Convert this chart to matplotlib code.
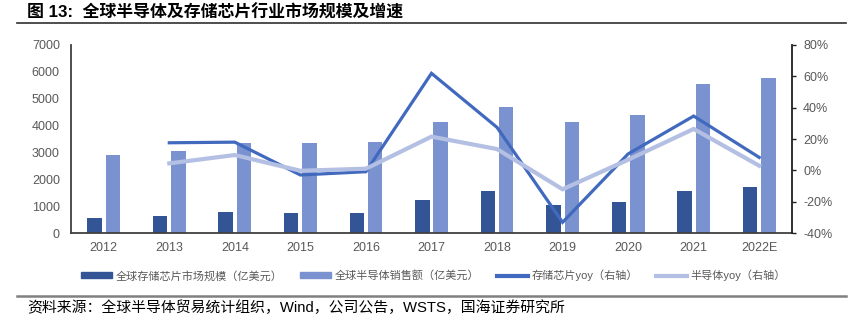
import matplotlib.pyplot as plt
import numpy as np
from matplotlib.lines import Line2D
from matplotlib.patches import Patch

plt.rcParams['font.family'] = ['Liberation Sans', 'Noto Sans CJK SC', 'DejaVu Sans']

years = ['2012', '2013', '2014', '2015', '2016', '2017', '2018', '2019', '2020', '2021', '2022E']
memory_size = [557, 653, 779, 753, 768, 1235, 1570, 1060, 1160, 1570, 1710]
semi_sales = [2916, 3056, 3358, 3352, 3389, 4122, 4688, 4123, 4404, 5559, 5750]
# yoy in %, 2012 has no value
memory_yoy = [np.nan, 17.6, 18.0, -2.9, -0.8, 61.8, 27.4, -33.0, 10.5, 34.6, 8.3]
semi_yoy = [np.nan, 4.5, 9.8, -0.2, 1.1, 21.5, 13.6, -12.0, 6.8, 26.4, 3.0]

c_dark = '#335596'
c_light = '#7A92CF'
c_line1 = '#4169BE'
c_line2 = '#B3BFE3'
c_text = '#595959'

fig = plt.figure(figsize=(8.55, 3.32), dpi=100)
ax = fig.add_axes([0.083, 0.2973, 0.8433, 0.568])
ax2 = ax.twinx()

x = np.arange(len(years))
w = 0.22
ax.bar(x - 0.14, memory_size, w, color=c_dark, zorder=2)
ax.bar(x + 0.14, semi_sales, w, color=c_light, zorder=2)
ax.set_xlim(-0.5, len(years) - 0.5)
ax.set_ylim(0, 7000)
ax.set_yticks(range(0, 7001, 1000))
ax.set_xticks(x)
ax.set_xticklabels(years)

ax2.plot(x, memory_yoy, color=c_line1, lw=2.3, solid_joinstyle='miter')
ax2.plot(x, semi_yoy, color=c_line2, lw=3, solid_joinstyle='miter')
ax2.set_ylim(-40, 80)
ax2.set_yticks(range(-40, 81, 20))
ax2.set_yticklabels([f'{v}%' for v in range(-40, 81, 20)])

for a in (ax, ax2):
    a.spines['top'].set_visible(False)
    a.tick_params(labelsize=9, labelcolor=c_text)
ax.spines['right'].set_visible(False)
ax2.spines['left'].set_visible(False)
ax2.spines['bottom'].set_visible(False)
ax.spines['left'].set_color('#404040')
ax.spines['bottom'].set_color('#404040')
ax.spines['left'].set_linewidth(1.3)
ax.spines['bottom'].set_linewidth(1.3)
ax2.spines['right'].set_color('#202020')
ax2.spines['right'].set_linewidth(1.3)
ax.tick_params(axis='y', length=0, pad=8)
ax.tick_params(axis='x', length=0, pad=6)
ax2.tick_params(axis='y', length=3, width=1, color='#202020', pad=5)

handles = [
    Patch(color=c_dark), Patch(color=c_light),
    Line2D([], [], color=c_line1, lw=3), Line2D([], [], color=c_line2, lw=3),
]
labels = ['全球存储芯片市场规模（亿美元）', '全球半导体销售额（亿美元）', '存储芯片yoy（右轴）', '半导体yoy（右轴）']
leg = fig.legend(handles, labels, loc='center', bbox_to_anchor=(0.507, 0.170), ncol=4, frameon=False,
                 fontsize=8, handlelength=2.8, handleheight=0.45, handletextpad=0.3, columnspacing=1.6,
                 labelcolor=c_text)

fig.text(0.032, 0.962, '图 13:  全球半导体及存储芯片行业市场规模及增速', fontsize=12.2, fontweight='bold',
         va='center', ha='left', color='black')
fig.add_artist(Line2D([0.02, 0.99], [0.931, 0.931], color='#303030', lw=1.2))
fig.add_artist(Line2D([0.02, 0.99], [0.108, 0.108], color='#808080', lw=1.8))
fig.text(0.032, 0.073, '资料来源：全球半导体贸易统计组织，Wind，公司公告，WSTS，国海证券研究所', fontsize=10.7,
         va='center', ha='left', color='black')

fig.savefig('out.png', dpi=100)
